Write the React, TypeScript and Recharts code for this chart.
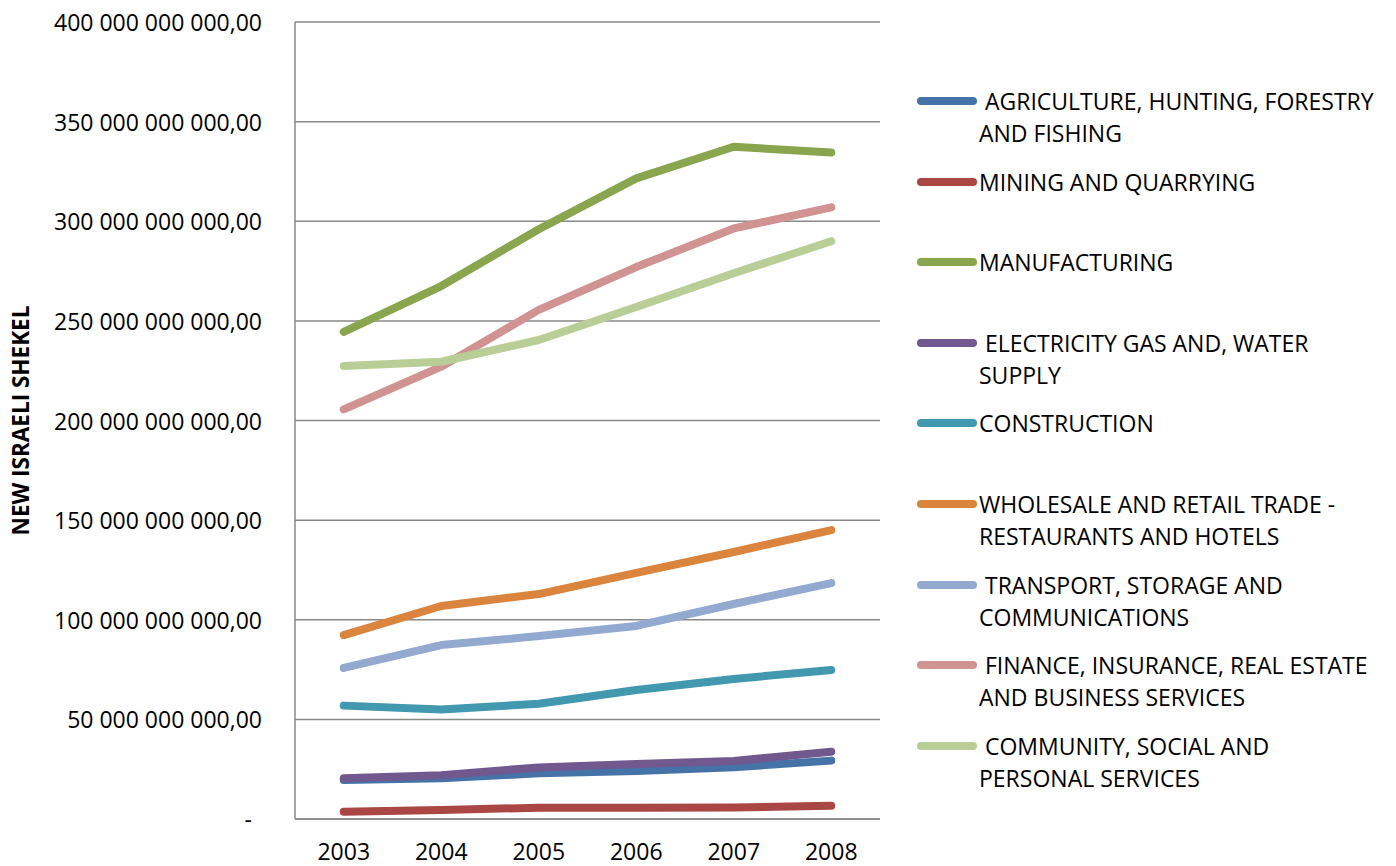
import React from 'react';
import { LineChart, Line, XAxis, YAxis, CartesianGrid, Label } from 'recharts';

const years = ['2003', '2004', '2005', '2006', '2007', '2008'];

// values in billions of NIS
const agriculture = [19.6, 20.4, 22.9, 24.1, 26.0, 29.3];
const mining = [3.7, 4.5, 5.7, 5.7, 5.8, 6.7];
const manufacturing = [244.5, 267.5, 296, 321.5, 337.4, 334.5];
const electricity = [20.4, 22.0, 25.9, 27.6, 29.1, 33.8];
const construction = [56.9, 55.0, 57.8, 64.7, 70.3, 74.8];
const wholesale = [92.3, 106.9, 112.9, 123.5, 134.0, 145.0];
const transport = [75.8, 87.3, 91.8, 96.9, 107.9, 118.4];
const finance = [205.6, 227, 255.5, 277, 296.4, 307];
const community = [227.3, 229.5, 240.4, 257, 273.9, 290];

const yTicks = [0, 50, 100, 150, 200, 250, 300, 350, 400];

const series = [
  { key: 'agr', name: ' AGRICULTURE, HUNTING, FORESTRY\nAND FISHING', color: '#4572A7', values: agriculture },
  { key: 'min', name: 'MINING AND QUARRYING', color: '#AA4643', values: mining },
  { key: 'man', name: 'MANUFACTURING', color: '#89A54E', values: manufacturing },
  { key: 'ele', name: ' ELECTRICITY GAS AND, WATER\nSUPPLY', color: '#71588F', values: electricity },
  { key: 'con', name: 'CONSTRUCTION', color: '#4198AF', values: construction },
  { key: 'who', name: 'WHOLESALE AND RETAIL TRADE -\nRESTAURANTS AND HOTELS', color: '#DB843D', values: wholesale },
  { key: 'tra', name: ' TRANSPORT, STORAGE AND\nCOMMUNICATIONS', color: '#93A9CF', values: transport },
  { key: 'fin', name: ' FINANCE, INSURANCE, REAL ESTATE\nAND BUSINESS SERVICES', color: '#D19392', values: finance },
  { key: 'com', name: ' COMMUNITY, SOCIAL AND\nPERSONAL SERVICES', color: '#B9CD96', values: community },
];

const data = years.map((y, i) => {
  const row: any = { year: y };
  series.forEach(s => { row[s.key] = s.values[i]; });
  return row;
});

const FONT = '"Open Sans", sans-serif';

const formatY = (v: number) => {
  if (v === 0) return '-';
  const n = String(v * 1e9);
  return n.replace(/\B(?=(\d{3})+(?!\d))/g, ' ') + ',00';
};

const YTick = (props: any) => {
  const { x, y, payload } = props;
  const isZero = payload.value === 0;
  return (
    <text x={isZero ? x - 10 : x} y={y} textAnchor="end" dominantBaseline="central"
      fontFamily={FONT} fontSize={23} fill="#000">
      {formatY(payload.value)}
    </text>
  );
};

const LegendBox = () => (
  <div style={{ position: 'absolute', left: 917, top: 85, width: 478, fontFamily: FONT, fontSize: 23, color: '#000' }}>
    {series.map(s => (
      <div key={s.key} style={{ height: 80.6, display: 'flex', alignItems: 'flex-start' }}>
        <div style={{ width: 60, height: 8, borderRadius: 4, background: s.color, marginTop: 12, flexShrink: 0 }} />
        <div style={{ whiteSpace: 'pre', lineHeight: '32px', marginLeft: 2 }}>{s.name}</div>
      </div>
    ))}
  </div>
);

export default function App() {
  return (
    <div style={{ position: 'relative', width: 1396, height: 866, margin: '-8px 0 0 -8px' }}>
      <LineChart width={1396} height={866} data={data}
        margin={{ top: 22, right: 516, bottom: 17, left: 0 }}>
        <CartesianGrid vertical={false} stroke="#888" strokeWidth={1.5} />
        <XAxis dataKey="year" height={30} stroke="#888" strokeWidth={1.5} tickLine={false} tickSize={0} tickMargin={25}
          padding={{ left: 48.75, right: 48.75 }} interval={0}
          tick={{ fontFamily: FONT, fontSize: 23, fill: '#000' }} />
        <YAxis width={295} domain={[0, 400]} ticks={yTicks} stroke="#888" strokeWidth={1.5}
          tickLine={false} tickSize={0} tickMargin={33} tick={<YTick />} interval={0}>
          <Label content={(p: any) => {
            const vb = p.viewBox;
            const cy = vb.y + vb.height / 2;
            return (
              <text x={20} y={cy} transform={`rotate(-90, 20, ${cy})`} textAnchor="middle"
                dominantBaseline="central" fontFamily={FONT} fontSize={22.5} fontWeight="bold" fill="#000">
                NEW ISRAELI SHEKEL
              </text>
            );
          }} />
        </YAxis>
        {series.map(s => (
          <Line key={s.key} dataKey={s.key} name={s.name} stroke={s.color} strokeWidth={8}
            strokeLinecap="round" strokeLinejoin="round" dot={false} activeDot={false}
            isAnimationActive={false} />
        ))}
      </LineChart>
      <LegendBox />
    </div>
  );
}
